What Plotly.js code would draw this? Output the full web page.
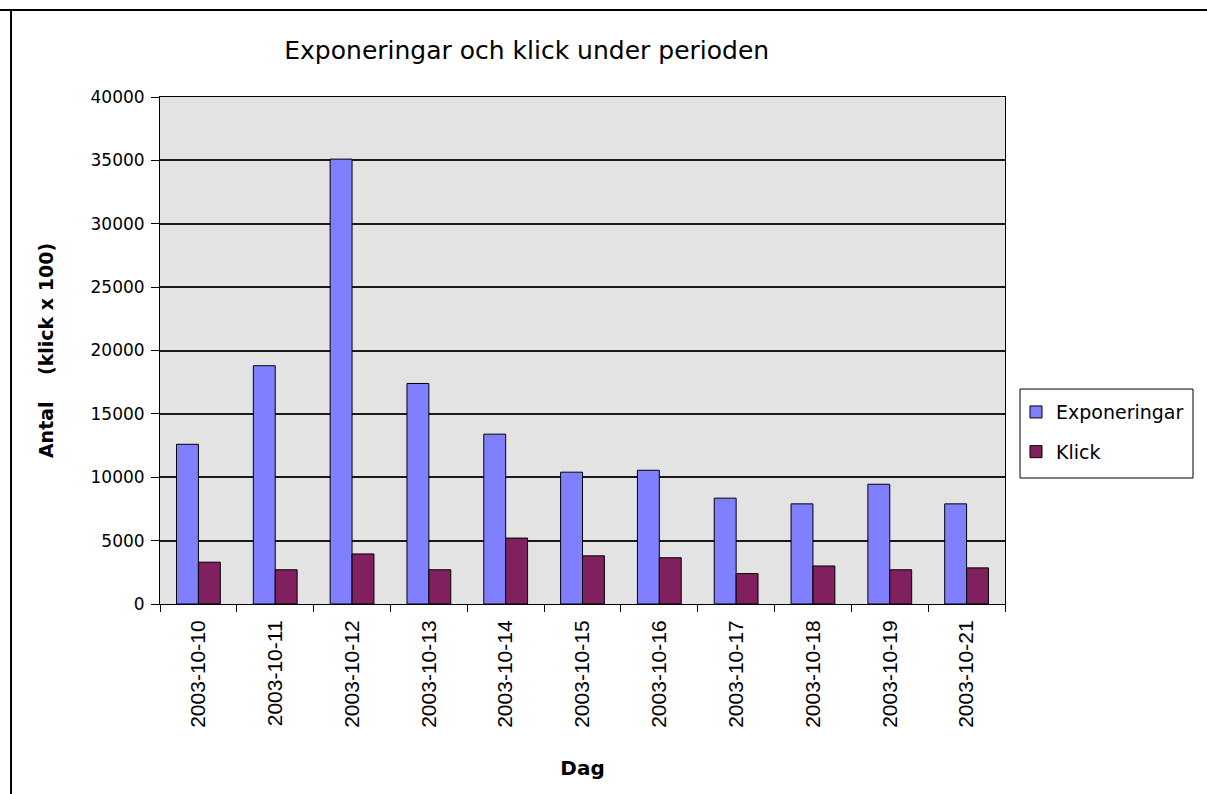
<!DOCTYPE html>
<html>
<head>
<meta charset="utf-8">
<script src="https://cdn.plot.ly/plotly-3.0.1.min.js"></script>
<style>
html,body{margin:0;padding:0;background:#fff;}
#chart{width:1207px;height:794px;}
</style>
</head>
<body>
<div id="chart"></div>
<script>
const categories = ["2003-10-10","2003-10-11","2003-10-12","2003-10-13","2003-10-14","2003-10-15","2003-10-16","2003-10-17","2003-10-18","2003-10-19","2003-10-21"];
const exponeringar = [12600, 18800, 35100, 17400, 13400, 10400, 10550, 8350, 7900, 9450, 7900];
const klick = [3300, 2700, 3950, 2700, 5200, 3800, 3650, 2400, 3000, 2700, 2850];
const yTicks = [0, 5000, 10000, 15000, 20000, 25000, 30000, 35000, 40000];

const traces = [
  {type:'bar', name:'Exponeringar', x:categories, y:exponeringar,
   marker:{color:'#8080FF', line:{color:'#000', width:1}}, legendgroup:'a'},
  {type:'bar', name:'Klick', x:categories, y:klick,
   marker:{color:'#80205F', line:{color:'#000', width:1}}, legendgroup:'b'}
];

const layout = {
  width:1207, height:794,
  margin:{l:160, r:202, t:97, b:190},
  paper_bgcolor:'#fff', plot_bgcolor:'#E3E3E3',
  barmode:'group', bargap:0.43, bargroupgap:0,
  font:{family:'DejaVu Sans, Verdana, sans-serif', color:'#000', size:16},
  title:{text:'Exponeringar och klick under perioden', font:{size:25, color:'#000'},
         x:0.434, xref:'paper', xanchor:'center', y:0.937, yref:'container', yanchor:'middle'},
  xaxis:{type:'category', tickson:'boundaries', ticks:'outside', ticklen:7, tickcolor:'#000', tickwidth:1,
         tickangle:-90, tickfont:{size:21, family:'Liberation Sans, Arial, sans-serif'}, ticklabelstandoff:7,
         showline:true, linecolor:'#000', linewidth:1, mirror:true, showgrid:false,
         title:{text:'<b>Dag</b>', font:{size:20}, standoff:34}},
  yaxis:{range:[0,40000], tickvals:yTicks, ticktext:yTicks.map(String), ticks:'outside', ticklen:8,
         tickcolor:'#000', tickfont:{size:17}, ticklabelstandoff:3, showline:true, linecolor:'#000', linewidth:1, mirror:true,
         showgrid:true, gridcolor:'#1a1a1a', gridwidth:2, zeroline:false,
         title:{text:'<b>Antal    (klick x 100)</b>', font:{size:19}, standoff:31}},
  legend:{x:1.013, xanchor:'left', y:0.416, yanchor:'top', borderwidth:0,
          bgcolor:'rgba(0,0,0,0)', font:{size:19}, traceorder:'grouped', tracegroupgap:12},
  showlegend:true,
  shapes:[
    {type:'rect', xref:'paper', yref:'paper', x0:1.0178, x1:1.2225, y0:0.2485, y1:0.424,
     line:{color:'#000', width:1}, fillcolor:'#fff', layer:'below'},
    {type:'line', xref:'paper', yref:'paper', x0:-0.19, x1:1.25, y0:1.1716, y1:1.1716, line:{color:'#000', width:2}},
    {type:'line', xref:'paper', yref:'paper', x0:-0.1763, x1:-0.1763, y0:-0.4, y1:1.1716, line:{color:'#000', width:2}}
  ]
};

Plotly.newPlot('chart', traces, layout, {displayModeBar:false, staticPlot:true});
</script>
</body>
</html>
